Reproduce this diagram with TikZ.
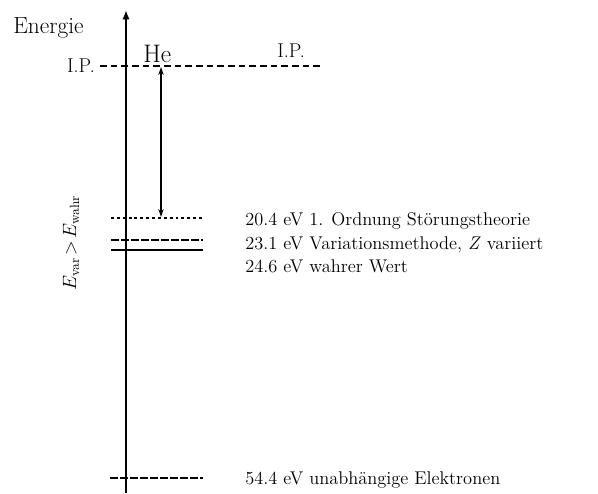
\documentclass[tikz,border=0pt]{standalone}
\usetikzlibrary{positioning}
\usetikzlibrary{arrows.meta}

\begin{document}
\begin{tikzpicture}[x=0.75pt,y=-0.75pt]
    \tikzset{
        every node/.style={font=\fontsize{13.8}{16}\selectfont, inner sep=0pt},
        level/.style={line width=0.8pt},
        lbl/.style={anchor=base west}
    }
    \useasboundingbox (0,0) rectangle (598,493);

    % draw energy axis
    \coordinate (axbot) at (126,493);
    \coordinate (axtop) at (126,10);
    \draw[line width=2pt,-{Latex[length=7pt,width=5.5pt]}] (axbot) -- (axtop);
    \node[anchor=base west, font=\fontsize{17.5}{20}\selectfont] (energie) at (13,33) {Energie};

    % draw ionisation limit
    \coordinate (ipl) at (100,66);
    \coordinate (ipr) at (321,66);
    \draw[level,dash pattern=on 5pt off 3pt] (ipl) -- (ipr);
    \node[anchor=base east, font=\fontsize{15}{17}\selectfont] (ipleft) at (95,72) {I.P.};
    \node[anchor=base west, font=\fontsize{19}{21}\selectfont] (he) at (143,62) {He};
    \node[anchor=base west, font=\fontsize{15}{17}\selectfont] (ipright) at (277,57) {I.P.};

    % draw levels
    \coordinate (stl) at (111,218);  \coordinate (str) at (202,218);
    \coordinate (vml) at (111,240);  \coordinate (vmr) at (203,240);
    \coordinate (wwl) at (111,250);  \coordinate (wwr) at (203,250);
    \coordinate (ual) at (110,478);  \coordinate (uar) at (203,478);
    \draw[level,dash pattern=on 2.2pt off 2.2pt] (stl) -- (str);
    \draw[level,dash pattern=on 6pt off 1.5pt] (vml) -- (vmr);
    \draw[level] (wwl) -- (wwr);
    \draw[level,dash pattern=on 6pt off 1.5pt] (ual) -- (uar);

    % draw ionisation energy arrow
    \coordinate (ipa) at (161,67);
    \coordinate (sta) at (161,217);
    \draw[line width=0.9pt,{Stealth[length=6pt,width=4pt]}-{Stealth[length=6pt,width=4pt]}] (ipa) -- (sta);

    % level labels
    \node[lbl] (st) at (245,225) {20.4 eV 1. Ordnung Störungstheorie};
    \node[lbl] (vm) at (245,249) {23.1 eV Variationsmethode, \textit{Z} variiert};
    \node[lbl] (ww) at (245,272) {24.6 eV wahrer Wert};
    \node[lbl] (ua) at (245,484) {54.4 eV unabhängige Elektronen};

    \node[rotate=90, font=\fontsize{14.5}{16}\selectfont] (evar) at (71,243)
        {$E_{\mathrm{var}}\!>\!E_{\mathrm{wahr}}$};
\end{tikzpicture}
\end{document}
